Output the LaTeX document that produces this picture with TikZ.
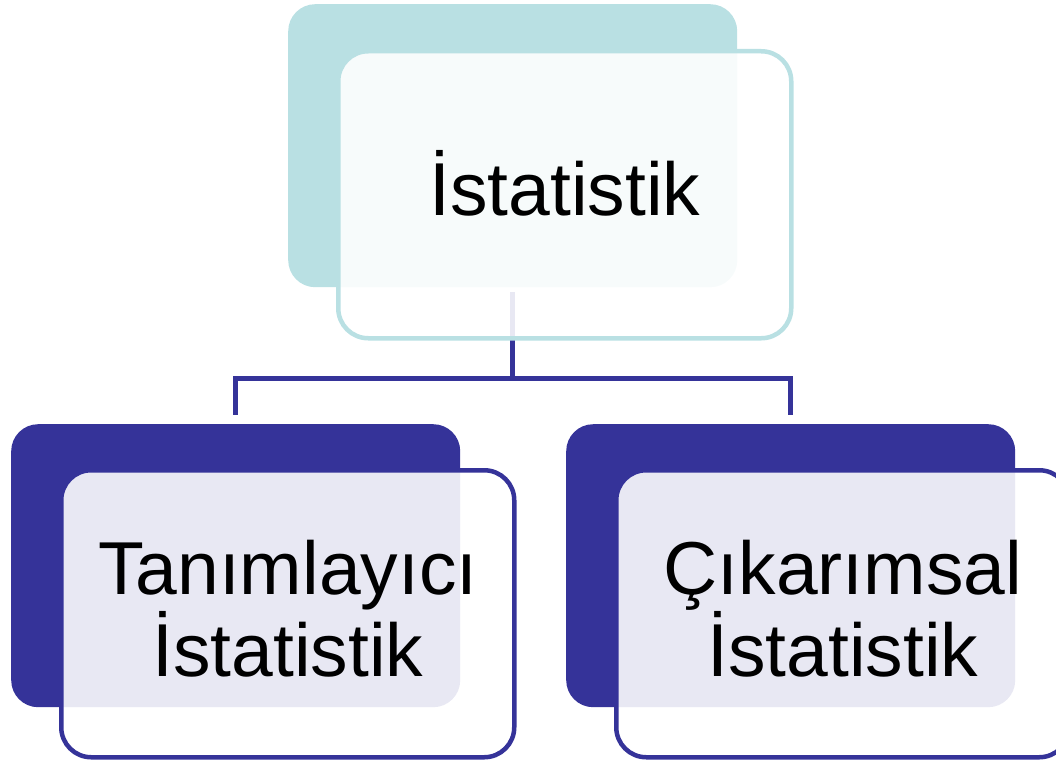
\documentclass[tikz,border=0pt]{standalone}
\usepackage{fontspec}
\setmainfont{Liberation Sans}
\definecolor{tealback}{HTML}{B9E0E3}
\definecolor{navy}{HTML}{353399}
\begin{document}
\begin{tikzpicture}[x=1pt,y=-1pt,
  backbox/.style={rectangle, rounded corners=27pt, minimum width=449pt, minimum height=283pt, anchor=north west, inner sep=0pt},
  frontbox/.style={rectangle, rounded corners=30pt, minimum width=453pt, minimum height=287pt, anchor=north west, inner sep=0pt,
     fill=white, fill opacity=0.89, line width=4.5pt},
  lbl/.style={align=center, inner sep=0pt, font=\fontsize{75}{78}\selectfont},
  conn/.style={draw=navy, line width=4.5pt}]
\useasboundingbox (0,0) rectangle (1056,762);
\node[backbox, fill=tealback] (tb) at (288,4) {};
\node[backbox, fill=navy] (lb) at (11,424) {};
\node[backbox, fill=navy] (rb) at (566,424) {};
\coordinate (hub) at ([yshift=-91pt]tb.south);
\draw[conn] ([yshift=-5pt]tb.south) -- (hub);
\draw[conn] (hub) -| ([yshift=9pt]lb.north);
\draw[conn] (hub) -| ([yshift=9pt]rb.north);
\node[frontbox, draw=tealback] (tf) at (336,49) {};
\node[frontbox, draw=navy] (lf) at (59,468) {};
\node[frontbox, draw=navy] (rf) at (614,468) {};
\node[lbl] (tt) at ([yshift=11pt]tf.center) {İstatistik};
\node[lbl] (lt) at ([yshift=5pt]lf.center) {Tanımlayıcı\\İstatistik};
\node[lbl] (rt) at ([yshift=5pt]rf.center) {Çıkarımsal\\İstatistik};
\end{tikzpicture}
\end{document}
